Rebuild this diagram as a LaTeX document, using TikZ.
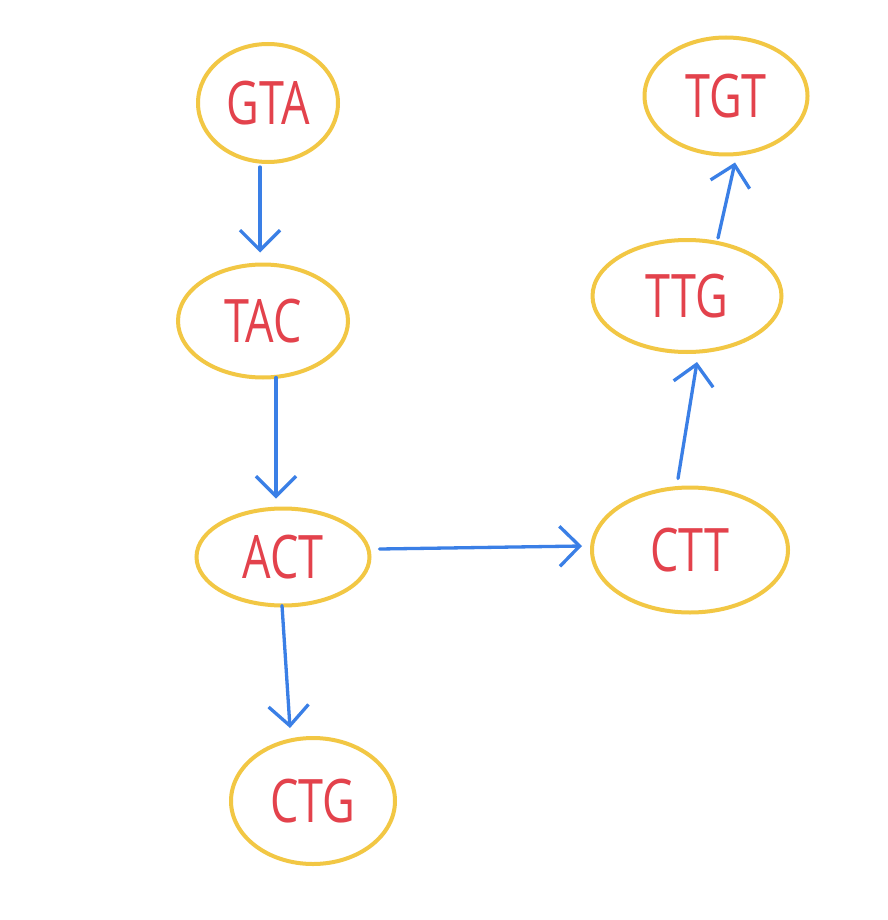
\documentclass[tikz,border=0pt]{standalone}
\usepackage{fontspec}
\setmainfont{Open Sans}
\usetikzlibrary{shapes.geometric,arrows.meta,calc}
\definecolor{ylw}{HTML}{F2C744}
\definecolor{blu}{HTML}{3A7FE6}
\definecolor{rd}{HTML}{E3424C}
\begin{document}
\begin{tikzpicture}[x=1pt,y=-1pt,
  kmer/.style={ellipse,draw=ylw,line width=4pt,inner sep=0pt,text=rd,
    font=\fontsize{60}{60}\selectfont},
  arr/.style={draw=blu,line width=3.3pt,line cap=round,
    -{Straight Barb[length=20pt,width=40pt,line width=3.3pt]}}]
\useasboundingbox[fill=white] (0,0) rectangle (887,920);
\node[kmer,minimum width=140pt,minimum height=118pt] (GTA) at (268,103) {\scalebox{0.75}[1]{GTA}};
\node[kmer,minimum width=170pt,minimum height=113pt] (TAC) at (263,321) {\scalebox{0.75}[1]{TAC}};
\node[kmer,minimum width=173pt,minimum height=97pt] (ACT) at (283,557) {\scalebox{0.75}[1]{ACT}};
\node[kmer,minimum width=164pt,minimum height=126pt] (CTG) at (313,801) {\scalebox{0.75}[1]{CTG}};
\node[kmer,minimum width=196pt,minimum height=125pt] (CTT) at (690,550) {\scalebox{0.75}[1]{CTT}};
\node[kmer,minimum width=189pt,minimum height=112pt] (TTG) at (687,296) {\scalebox{0.75}[1]{TTG}};
\node[kmer,minimum width=163pt,minimum height=117pt] (TGT) at (726,96) {\scalebox{0.75}[1]{TGT}};
\draw[arr] ($(GTA.south)+(-8,3)$) -- ($(TAC.north)+(-3,-10)$);
\draw[arr] ($(TAC.south)+(13,-2)$) -- ($(ACT.north)+(-7,-8)$);
\draw[arr] ($(ACT.south)+(-1,-2)$) -- ($(CTG.north)+(-23,-8)$);
\draw[arr] ($(ACT.east)+(8,-8)$) -- ($(CTT.west)+(-8,-4)$);
\draw[arr] ($(CTT.north)+(-12,-7)$) -- ($(TTG.south)+(10,8)$);
\draw[arr] ($(TTG.north)+(31,0)$) -- ($(TGT.south)+(9,6)$);
\end{tikzpicture}
\end{document}
